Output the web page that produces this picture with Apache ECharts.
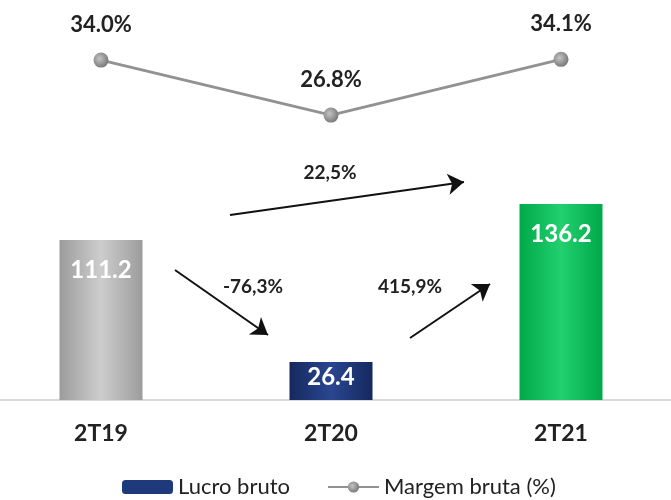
<!DOCTYPE html>
<html>
<head>
<meta charset="utf-8">
<script src="https://cdn.jsdelivr.net/npm/echarts@6/dist/echarts.min.js"></script>
<style>
  html, body { margin: 0; padding: 0; background: #fff; }
  #main { width: 671px; height: 500px; }
</style>
</head>
<body>
<div id="main"></div>
<script>
  var categories = ['2T19', '2T20', '2T21'];
  var lucroBruto = [111.2, 26.4, 136.2];
  var margemBruta = [34.0, 26.8, 34.1];
  var barColors = [
    ['#cdcdcd', '#9c9c9c'],
    ['#2a4690', '#15295f'],
    ['#22d06e', '#00a84a']
  ];
  var variacoes = ['22,5%', '-76,3%', '415,9%'];

  var chart = echarts.init(document.getElementById('main'));
  var font = 'Lato, "Open Sans", sans-serif';

  function grad(c) {
    return new echarts.graphic.LinearGradient(0, 0, 1, 0, [
      { offset: 0, color: c[1] },
      { offset: 0.5, color: c[0] },
      { offset: 1, color: c[1] }
    ]);
  }

  // the short navy bar keeps its label close to the top
  var barData = lucroBruto.map(function (v, i) {
    return {
      value: v,
      itemStyle: { color: grad(barColors[i]) },
      label: { distance: v < 50 ? 3 : 18 }
    };
  });

  var option = {
    animation: false,
    textStyle: { fontFamily: font },
    grid: { left: -14, right: -5, top: 20, bottom: 100, containLabel: false, outerBoundsMode: 'none' },
    legend: {
      left: 117,
      top: 469,
      itemWidth: 51,
      itemHeight: 14,
      itemGap: 37,
      textStyle: { fontSize: 22, color: '#222', fontFamily: font, lineHeight: 26 },
      data: [
        { name: 'Lucro bruto', itemStyle: { color: '#1f3a7a' } },
        { name: 'Margem bruta (%)' }
      ]
    },
    xAxis: {
      type: 'category',
      data: categories,
      axisTick: { show: false },
      axisLine: { lineStyle: { color: '#d9d9d9', width: 2 } },
      axisLabel: { margin: 22, fontSize: 23, fontWeight: 'bold', color: '#222' }
    },
    yAxis: [
      { type: 'value', min: 0, max: 264, show: false, splitLine: { show: false } },
      { type: 'value', min: -10.5, max: 39.25, show: false, splitLine: { show: false } }
    ],
    series: [
      {
        name: 'Lucro bruto',
        type: 'bar',
        barWidth: 83,
        itemStyle: { color: '#1f3a7a' },
        data: barData,
        label: {
          show: true,
          position: 'insideTop',
          color: '#fff',
          fontSize: 24,
          fontWeight: 'bold',
          formatter: function (p) { return p.value.toFixed(1); }
        },
        markLine: {
          silent: true,
          symbol: ['none', 'arrow'],
          symbolSize: 16,
          label: { show: false },
          lineStyle: { color: '#111', width: 2, type: 'solid' },
          data: [
            [{ x: 230, y: 215 }, { x: 464, y: 182 }],
            [{ x: 175, y: 270 }, { x: 268, y: 335 }],
            [{ x: 410, y: 338 }, { x: 490, y: 284 }]
          ]
        }
      },
      {
        name: 'Margem bruta (%)',
        type: 'line',
        yAxisIndex: 1,
        data: margemBruta,
        symbol: 'circle',
        symbolSize: 15,
        lineStyle: { color: '#929292', width: 3 },
        itemStyle: {
          color: new echarts.graphic.RadialGradient(0.4, 0.4, 0.6, [
            { offset: 0, color: '#c4c4c4' },
            { offset: 1, color: '#7a7a7a' }
          ])
        },
        label: {
          show: true,
          position: 'top',
          distance: 17,
          fontSize: 22,
          fontWeight: 'bold',
          color: '#222',
          formatter: function (p) { return p.value.toFixed(1) + '%'; }
        }
      }
    ],
    graphic: [
      { type: 'text', x: 330, y: 173, style: { text: variacoes[0], font: 'bold 19px ' + font, fill: '#222', align: 'center', verticalAlign: 'middle' } },
      { type: 'text', x: 253, y: 287, style: { text: variacoes[1], font: 'bold 19px ' + font, fill: '#222', align: 'center', verticalAlign: 'middle' } },
      { type: 'text', x: 410, y: 287, style: { text: variacoes[2], font: 'bold 19px ' + font, fill: '#222', align: 'center', verticalAlign: 'middle' } }
    ]
  };

  chart.setOption(option);
</script>
</body>
</html>
